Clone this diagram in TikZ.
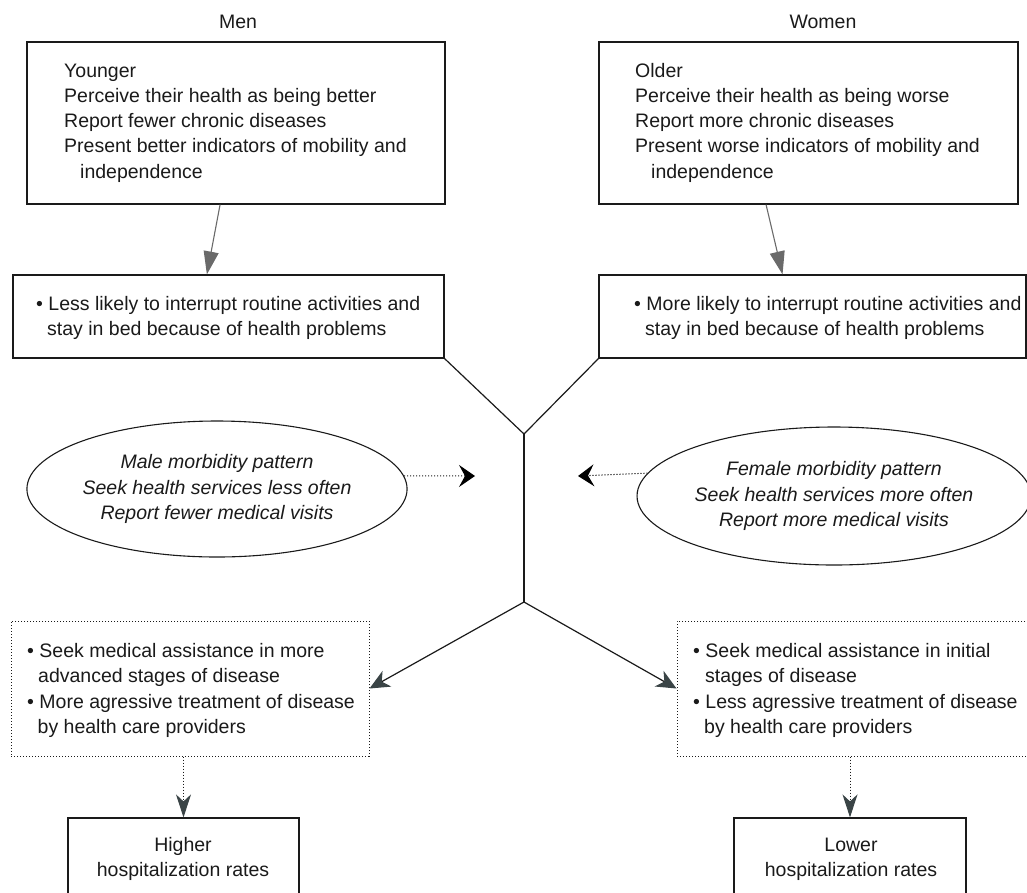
\documentclass[tikz,border=0pt]{standalone}
\usepackage{fontspec}
\setmainfont{Liberation Sans}
\usetikzlibrary{shapes.geometric,arrows.meta,calc}
\definecolor{ink}{HTML}{1A1A1A}
\definecolor{arrgray}{HTML}{6A6A6A}
\definecolor{slate}{HTML}{3A4446}
\begin{document}
\begin{tikzpicture}[x=1pt,y=-1pt,
  every node/.style={font=\fontsize{19.5}{25.3}\selectfont, text=ink},
  box/.style={draw=ink, line width=1.2pt, rectangle, inner sep=0pt},
  dotbox/.style={draw=ink, line width=1pt, dash pattern=on 1.1pt off 1.9pt, rectangle, inner sep=0pt},
  txt/.style={align=left, inner sep=0pt, anchor=base west},
  ctxt/.style={align=center, inner sep=0pt, anchor=base},
  oval/.style={draw=ink, line width=1.1pt, ellipse, inner sep=0pt, align=center, font=\fontsize{19.5}{25.3}\selectfont\itshape},
  conn/.style={draw=ink, line width=1.2pt},
  grayarr/.style={draw=arrgray, line width=1.1pt, -{Triangle[length=23pt,width=15pt]}, arrgray},
  slatearr/.style={draw=ink, line width=1.2pt, -{Stealth[length=20pt,width=18pt,inset=6pt,color=slate,fill=slate]}},
  vdotarr/.style={draw=ink, line width=1pt, dash pattern=on 1.1pt off 1.9pt, -{Stealth[length=23pt,width=15pt,inset=7pt,color=slate,fill=slate]}},
  hdotarr/.style={draw=ink, line width=1pt, dash pattern=on 1.1pt off 1.9pt, -{Stealth[length=16pt,width=22pt,inset=6pt,color=black,fill=black]}},
]
\useasboundingbox (0,0) rectangle (1027,892);
\clip (0,0) rectangle (1027,892);

% headings
\node[ctxt] (men) at (238,28) {Men};
\node[ctxt] (women) at (823,28) {Women};

% top boxes
\node[box, minimum width=418pt, minimum height=162pt] (tl) at (236,123) {};
\node[box, minimum width=419pt, minimum height=162pt] (tr) at (808.5,123) {};
\node[txt] (tlt) at (64,178.2) {Younger\\Perceive their health as being better\\Report fewer chronic diseases\\Present better indicators of mobility and\\\hspace*{16pt}independence};
\node[txt] (trt) at (635,178.2) {Older\\Perceive their health as being worse\\Report more chronic diseases\\Present worse indicators of mobility and\\\hspace*{16pt}independence};

% middle boxes
\node[box, minimum width=431pt, minimum height=83pt] (ml) at (228.5,316.5) {};
\node[box, minimum width=427pt, minimum height=83pt] (mr) at (812.5,316.5) {};
\node[txt] (mlt) at (36,335.3) {\textbullet\ Less likely to interrupt routine activities and\\\hspace*{11pt}stay in bed because of health problems};
\node[txt] (mrt) at (634,335.3) {\textbullet\ More likely to interrupt routine activities and\\\hspace*{11pt}stay in bed because of health problems};

% ellipses
\node[oval, minimum width=360pt, minimum height=136pt] (le) at (217,489) {Male morbidity pattern\\Seek health services less often\\Report fewer medical visits};
\node[oval, minimum width=362pt, minimum height=138pt] (re) at (834,496) {Female morbidity pattern\\Seek health services more often\\Report more medical visits};

% dotted boxes
\node[dotbox, minimum width=358pt, minimum height=135pt] (ld) at (190,688.5) {};
\node[dotbox, minimum width=351pt, minimum height=135pt] (rd) at (852.5,688.5) {};
\node[txt] (ldt) at (27,733.5) {\textbullet\ Seek medical assistance in more\\\hspace*{11pt}advanced stages of disease\\\textbullet\ More agressive treatment of disease\\\hspace*{10.5pt}by health care providers};
\node[txt] (rdt) at (693,733.5) {\textbullet\ Seek medical assistance in initial\\\hspace*{12pt}stages of disease\\\textbullet\ Less agressive treatment of disease\\\hspace*{11pt}by health care providers};

% bottom boxes
\node[box, minimum width=231pt, minimum height=82pt] (bl) at (183.5,859) {};
\node[box, minimum width=232pt, minimum height=82pt] (br) at (850,859) {};
\node[ctxt] (blt) at (183,876.5) {Higher\\hospitalization rates};
\node[ctxt] (brt) at (851,876.5) {Lower\\hospitalization rates};

% junctions and tips
\coordinate (J1) at (524,434);
\coordinate (J2) at (524,602);
\coordinate (tipL) at (475,476);
\coordinate (tipR) at (578,476);

% connectors
\draw[grayarr] ($(tl.south west)!0.462!(tl.south east)$) -- ($(ml.north west)!0.45!(ml.north east)$);
\draw[grayarr] ($(tr.south west)!0.399!(tr.south east)$) -- ($(mr.north west)!0.43!(mr.north east)$);
\draw[conn] (ml.south east) -- (J1);
\draw[conn] (mr.south west) -- (J1);
\draw[conn] (J1) -- (J2);
\draw[slatearr] (J2) -- (ld.east);
\draw[slatearr] (J2) -- (rd.west);
\draw[vdotarr] (ld.south -| bl.north) -- (bl.north);
\draw[vdotarr] (rd.south -| br.north) -- (br.north);
\draw[hdotarr] (le.4) -- (tipL);
\draw[hdotarr] (re.173.5) -- (tipR);
\end{tikzpicture}
\end{document}
